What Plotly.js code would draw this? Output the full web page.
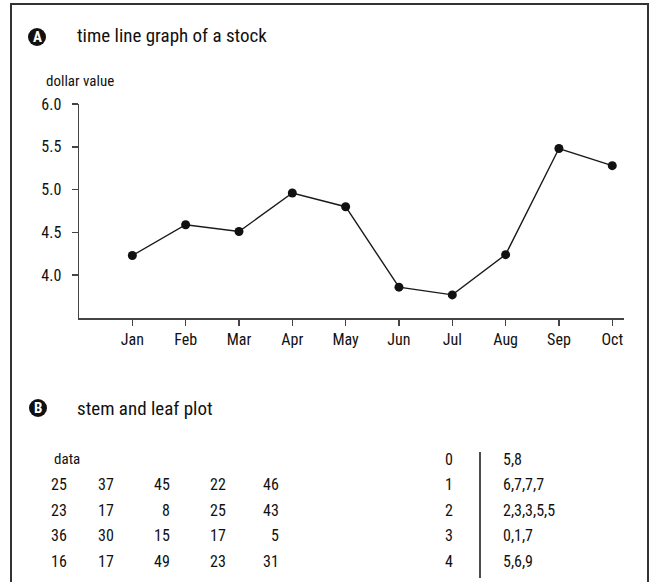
<!DOCTYPE html>
<html>
<head>
<meta charset="utf-8">
<script src="https://cdn.plot.ly/plotly-3.0.1.min.js"></script>
<style>
  html, body { margin: 0; padding: 0; background: #fff; }
  #chart { width: 652px; height: 582px; }
</style>
</head>
<body>
<div id="chart"></div>
<script>
// ---- data ----
const months = ['Jan', 'Feb', 'Mar', 'Apr', 'May', 'Jun', 'Jul', 'Aug', 'Sep', 'Oct'];
const stockValues = [4.23, 4.59, 4.51, 4.96, 4.80, 3.86, 3.77, 4.24, 5.48, 5.28];
const yTickValues = [4.0, 4.5, 5.0, 5.5, 6.0];
const chartTitle = 'time line graph of a stock';
const yAxisTitle = 'dollar value';
const plotBTitle = 'stem and leaf plot';
const dataHeader = 'data';
const dataRows = [
  [25, 37, 45, 22, 46],
  [23, 17, 8, 25, 43],
  [36, 30, 15, 17, 5],
  [16, 17, 49, 23, 31]
];
const stems = [0, 1, 2, 3, 4];
const leaves = ['5,8', '6,7,7,7', '2,3,3,5,5', '0,1,7', '5,6,9'];

// ---- layout helpers (pixel -> paper) ----
const W = 652, H = 582;
const PL = 79, PR = 624, PT = 104, PB = 318;
const px = x => (x - PL) / (PR - PL);
const py = y => (PB - y) / (PB - PT);
const FONT = '"Roboto Condensed", "Liberation Sans Narrow", "DejaVu Sans Condensed", sans-serif';
const INK = '#111';

const annotations = [];
const shapes = [];
function txt(text, x, y, size, xanchor, color, extra) {
  annotations.push(Object.assign({
    text: String(text), xref: 'paper', yref: 'paper', x: px(x), y: py(y),
    xanchor: xanchor || 'left', yanchor: 'middle', showarrow: false,
    font: { family: FONT, size: size, color: color || INK }
  }, extra || {}));
}
function badge(letter, cx, cy) {
  const r = 9;
  shapes.push({ type: 'circle', xref: 'paper', yref: 'paper',
    x0: px(cx - r), x1: px(cx + r), y0: py(cy + r), y1: py(cy - r),
    fillcolor: '#111', line: { color: '#111', width: 0 } });
  txt('<b>' + letter + '</b>', cx, cy, 15, 'center', '#fff');
}

// frame
shapes.push({ type: 'path', xref: 'paper', yref: 'paper',
  path: `M ${px(11)} ${py(590)} L ${px(11)} ${py(4)} L ${px(648)} ${py(4)} L ${px(648)} ${py(590)}`,
  line: { color: '#333', width: 2 } });

// section A
badge('A', 37, 37);
txt(chartTitle, 75, 36, 19);
txt(yAxisTitle, 44, 81, 15);

// section B
badge('B', 38, 408);
txt(plotBTitle, 75, 408, 19);

const rowY = [459, 484, 510, 535, 561];
const colRight = [69, 116, 172, 228, 281];
txt(dataHeader, 52, rowY[0], 15);
dataRows.forEach((row, i) => {
  row.forEach((v, j) => txt(v, colRight[j], rowY[i + 1], 16, 'right'));
});
stems.forEach((s, i) => {
  txt(s, 449, rowY[i], 16, 'center');
  txt(leaves[i], 501, rowY[i], 16, 'left');
});
shapes.push({ type: 'line', xref: 'paper', yref: 'paper',
  x0: px(480), x1: px(480), y0: py(452), y1: py(578),
  line: { color: INK, width: 1.5 } });

const trace = {
  type: 'scatter', mode: 'lines+markers',
  x: months, y: stockValues,
  line: { color: '#1a1a1a', width: 1.4 },
  marker: { color: '#111', size: 9 },
  cliponaxis: false, hoverinfo: 'skip'
};

const layout = {
  width: W, height: H,
  margin: { l: PL, r: W - PR, t: PT, b: H - PB, pad: 0 },
  paper_bgcolor: '#fff', plot_bgcolor: '#fff',
  showlegend: false,
  font: { family: FONT, color: INK, size: 15 },
  xaxis: {
    type: 'category', categoryorder: 'array', categoryarray: months,
    range: [-1, 9.22], showgrid: false, zeroline: false,
    showline: true, linecolor: '#444', linewidth: 1.5,
    ticks: 'outside', ticklen: 6, tickwidth: 1.5, tickcolor: '#444',
    tickfont: { family: FONT, size: 16, color: INK }, ticklabelstandoff: 0
  },
  yaxis: {
    range: [3.5, 6.0], tickmode: 'array', tickvals: yTickValues,
    tickformat: '.1f', showgrid: false, zeroline: false,
    showline: true, linecolor: '#444', linewidth: 1.5,
    ticks: 'outside', ticklen: 6, tickwidth: 1.5, tickcolor: '#444',
    tickfont: { family: FONT, size: 16, color: INK }, ticklabelstandoff: 7
  },
  annotations: annotations,
  shapes: shapes
};

Plotly.newPlot('chart', [trace], layout, { displayModeBar: false, staticPlot: true });
</script>
</body>
</html>
